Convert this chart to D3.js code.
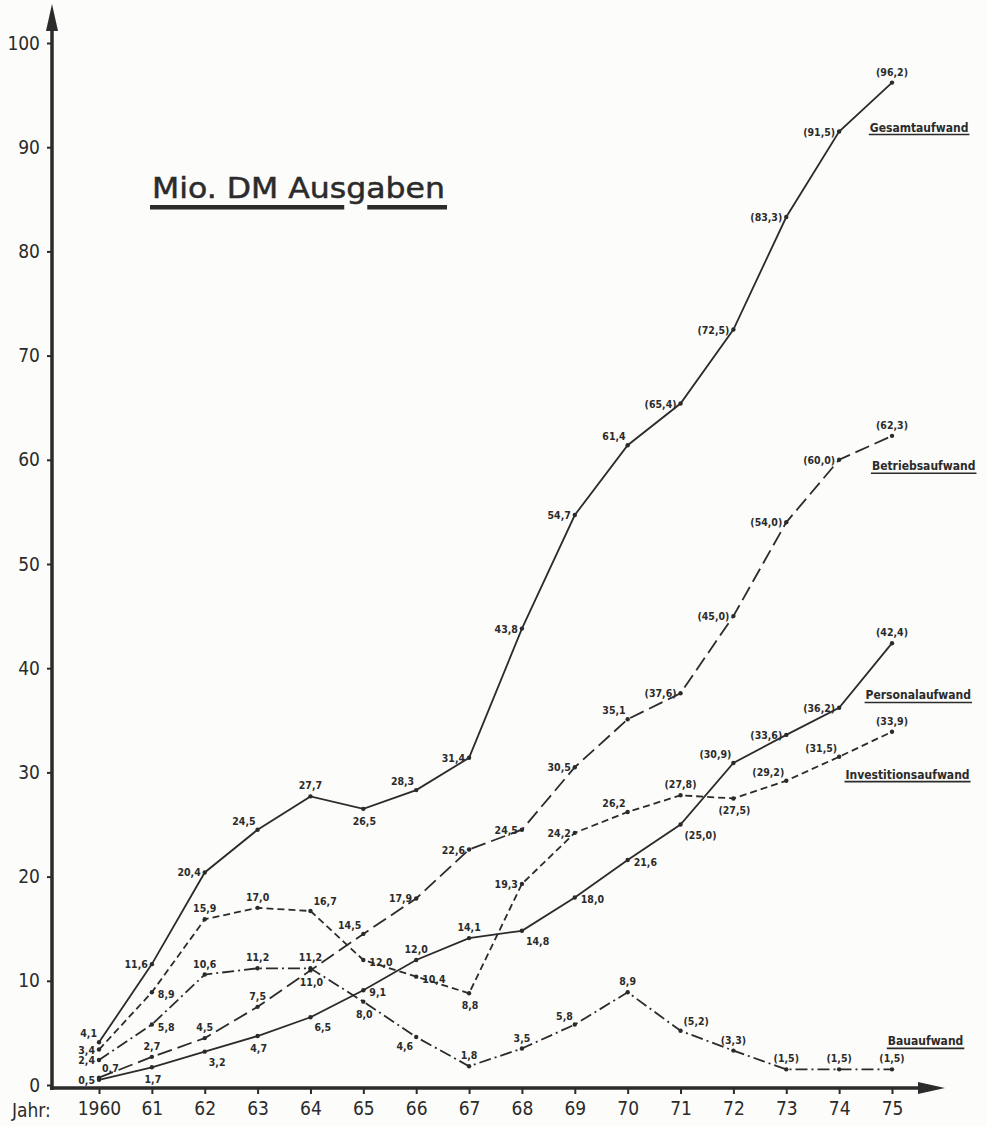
<!DOCTYPE html>
<html>
<head>
<meta charset="utf-8">
<script src="https://cdn.jsdelivr.net/npm/d3@7"></script>
<style>
  body { margin: 0; background: #fcfcfa; }
  svg { display: block; }
</style>
</head>
<body>
<svg id="chart"></svg>
<script>
// values (Mio. DM), 1971-75 are the bracketed estimates
let years = [1960, 1961, 1962, 1963, 1964, 1965, 1966, 1967, 1968, 1969, 1970, 1971, 1972, 1973, 1974, 1975]
let yearLabels = ['1960', '61', '62', '63', '64', '65', '66', '67', '68', '69', '70', '71', '72', '73', '74', '75']
let yTicks = [0, 10, 20, 30, 40, 50, 60, 70, 80, 90, 100]

let gesamt   = [4.1, 11.6, 20.4, 24.5, 27.7, 26.5, 28.3, 31.4, 43.8, 54.7, 61.4, 65.4, 72.5, 83.3, 91.5, 96.2]
let betrieb  = [0.7, 2.7, 4.5, 7.5, 11.0, 14.5, 17.9, 22.6, 24.5, 30.5, 35.1, 37.6, 45.0, 54.0, 60.0, 62.3]
let personal = [0.5, 1.7, 3.2, 4.7, 6.5, 9.1, 12.0, 14.1, 14.8, 18.0, 21.6, 25.0, 30.9, 33.6, 36.2, 42.4]
let invest   = [3.4, 8.9, 15.9, 17.0, 16.7, 12.0, 10.4, 8.8, 19.3, 24.2, 26.2, 27.8, 27.5, 29.2, 31.5, 33.9]
let bau      = [2.4, 5.8, 10.6, 11.2, 11.2, 8.0, 4.6, 1.8, 3.5, 5.8, 8.9, 5.2, 3.3, 1.5, 1.5, 1.5]

let seriesNames = ['Gesamtaufwand', 'Betriebsaufwand', 'Personalaufwand', 'Investitionsaufwand', 'Bauaufwand']
let estimateFrom = 1971

let width = 987
let height = 1126
let ink = '#2b2b2b'
let labelFont = '"DejaVu Sans Condensed", "DejaVu Sans", sans-serif'

let svg = d3.select('#chart').attr('width', width).attr('height', height)

let xScale = d3.scaleLinear().domain([1960, 1975]).range([99, 892])
let yScale = d3.scaleLinear().domain([0, 100]).range([1085, 43])

// line styles and where each series' value labels sit
let series = [
  { name: seriesNames[0], values: gesamt, dash: null,
    spots: ['al','l','l','al','a','b','al','l','l','l','al','l','l','l','l','a'],
    legend: [1974.58, 91.5] },
  { name: seriesNames[1], values: betrieb, dash: '15,6',
    spots: ['ar','a','a','a','b','al','l','l','l','l','al','l','l','l','l','a'],
    legend: [1974.62, 59.0] },
  { name: seriesNames[2], values: personal, dash: null,
    spots: ['l','b','br','b','br','r','a','a','br','r','r','br','al','l','l','a'],
    legend: [1974.5, 37.0] },
  { name: seriesNames[3], values: invest, dash: '7,4',
    spots: ['l','r','a','a','ar','r','r','b','l','l','al','a','b','al','al','a'],
    legend: [1974.12, 29.4] },
  { name: seriesNames[4], values: bau, dash: '12,4,2,4',
    spots: ['l','r','a','a','a','b','bl','a','a','al','a','ar','a','a','a','a'],
    legend: [1974.92, 3.8] }
]

let spotOffsets = {
  l:  { dx: -4, dy: 4, anchor: 'end' },
  al: { dx: -2, dy: -5, anchor: 'end' },
  a:  { dx: 0, dy: -7, anchor: 'middle' },
  ar: { dx: 3, dy: -6, anchor: 'start' },
  r:  { dx: 6, dy: 6, anchor: 'start' },
  br: { dx: 4, dy: 14, anchor: 'start' },
  b:  { dx: 1, dy: 16, anchor: 'middle' },
  bl: { dx: -3, dy: 13, anchor: 'end' }
}

let fmt = (v, yr) => {
  let s = v.toFixed(1).replace('.', ',')
  return yr >= estimateFrom ? '(' + s + ')' : s
}

let drawAxes = () => {
  let yAxis = d3.axisLeft(yScale).tickValues(yTicks).tickSize(5).tickPadding(7)
  let gy = svg.append('g').attr('transform', 'translate(52,0)').call(yAxis)
  gy.select('.domain').remove()
  gy.selectAll('line').attr('stroke', ink).attr('stroke-width', 2)
  gy.selectAll('text')
    .attr('font-family', labelFont).attr('font-size', 19).attr('fill', ink)

  let xAxis = d3.axisBottom(xScale).tickValues(years).tickSize(6).tickPadding(8)
    .tickFormat((d, i) => yearLabels[i])
  let gx = svg.append('g').attr('transform', 'translate(0,1088)').call(xAxis)
  gx.select('.domain').remove()
  gx.selectAll('line').attr('stroke', ink).attr('stroke-width', 2)
  gx.selectAll('text')
    .attr('font-family', labelFont).attr('font-size', 19).attr('fill', ink)

  svg.append('text')
     .attr('x', 12).attr('y', 1117)
     .attr('font-family', labelFont).attr('font-size', 19).attr('fill', ink)
     .text('Jahr:')

  // main axes with arrow heads
  svg.append('path').attr('d', 'M52,1090V22').attr('stroke', ink).attr('stroke-width', 3.5)
  svg.append('path').attr('d', 'M52,4L46,31L58,31Z').attr('fill', ink)
  svg.append('path').attr('d', 'M50,1088H922').attr('stroke', ink).attr('stroke-width', 3.5)
  svg.append('path').attr('d', 'M945,1088L918,1082L918,1094Z').attr('fill', ink)
}

let drawTitle = () => {
  let t = svg.append('text')
     .attr('x', 152).attr('y', 198)
     .attr('font-family', '"DejaVu Sans", sans-serif').attr('font-size', 29)
     .attr('textLength', 293).attr('lengthAdjust', 'spacingAndGlyphs')
     .attr('fill', ink)
     .attr('stroke', ink).attr('stroke-width', 0.5)
     .text('Mio. DM Ausgaben')
  let node = t.node()
  let gStart = node.getStartPositionOfChar(11).x
  let gEnd = node.getEndPositionOfChar(11).x
  svg.append('rect').attr('x', 150).attr('y', 205).attr('width', gStart - 150 - 2).attr('height', 4.5).attr('fill', ink)
  svg.append('rect').attr('x', gEnd + 1).attr('y', 205).attr('width', 447 - gEnd - 1).attr('height', 4.5).attr('fill', ink)
}

let drawSeries = () => {
  let line = d3.line()
    .x((d, i) => xScale(years[i]))
    .y(d => yScale(d))

  series.forEach(s => {
    let g = svg.append('g')

    g.append('path')
     .datum(s.values)
     .attr('d', line)
     .attr('fill', 'none')
     .attr('stroke', ink)
     .attr('stroke-width', 1.8)
     .attr('stroke-dasharray', s.dash)

    g.selectAll('circle')
     .data(s.values)
     .enter()
     .append('circle')
     .attr('cx', (d, i) => xScale(years[i]))
     .attr('cy', d => yScale(d))
     .attr('r', 2.2)
     .attr('fill', ink)

    g.selectAll('text.val')
     .data(s.values)
     .enter()
     .append('text')
     .attr('class', 'val')
     .attr('x', (d, i) => xScale(years[i]) + spotOffsets[s.spots[i]].dx)
     .attr('y', (d, i) => yScale(d) + spotOffsets[s.spots[i]].dy)
     .attr('text-anchor', (d, i) => spotOffsets[s.spots[i]].anchor)
     .attr('font-family', labelFont)
     .attr('font-weight', 'bold')
     .attr('font-size', 10.5)
     .attr('fill', ink)
     .text((d, i) => fmt(d, years[i]))

    // series name, underlined like the original lettering
    let lx = xScale(s.legend[0])
    let ly = yScale(s.legend[1])
    let lt = g.append('text')
     .attr('x', lx).attr('y', ly)
     .attr('font-family', labelFont)
     .attr('font-weight', 'bold')
     .attr('font-size', 12)
     .attr('fill', ink)
     .text(s.name)
    let w = lt.node().getComputedTextLength()
    g.append('line')
     .attr('x1', lx - 1).attr('x2', lx + w + 1)
     .attr('y1', ly + 3).attr('y2', ly + 3)
     .attr('stroke', ink).attr('stroke-width', 1.6)
  })
}

drawAxes()
drawTitle()
drawSeries()
</script>
</body>
</html>
